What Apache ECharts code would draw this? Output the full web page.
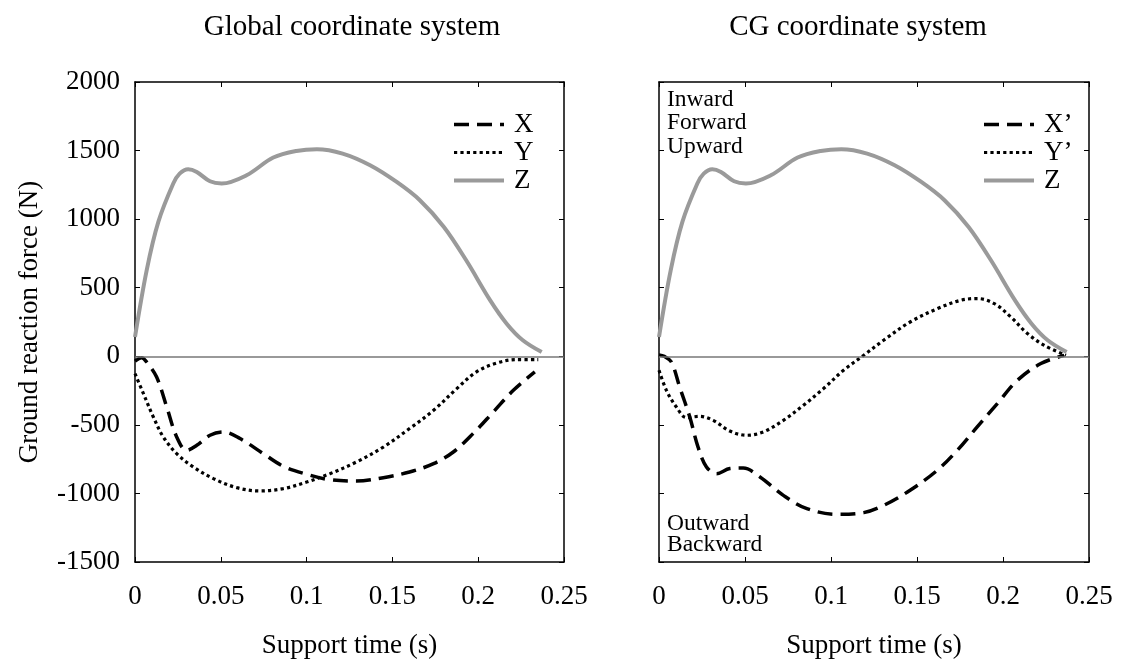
<!DOCTYPE html>
<html>
<head>
<meta charset="utf-8">
<script src="https://cdn.jsdelivr.net/npm/echarts@6/dist/echarts.min.js"></script>
<style>
html,body{margin:0;padding:0;background:#fff;}
#chart{width:1123px;height:664px;}
</style>
</head>
<body>
<div id="chart"></div>
<script>
// ---------- data ----------
const xTicksMin = 0, xTicksMax = 0.25, xTickStep = 0.05;
const yTicksMin = -1500, yTicksMax = 2000, yTickStep = 500;

// Vertical force Z (same in both systems)
const zTime  = [0, 0.0068, 0.0136, 0.0223, 0.026, 0.031, 0.036, 0.0437, 0.0505, 0.065, 0.0806, 0.094, 0.106, 0.121, 0.137, 0.1525, 0.166, 0.18, 0.193, 0.207, 0.2166, 0.226, 0.237];
const zForce = [141, 627, 980, 1260, 1332, 1364, 1344, 1276, 1260, 1320, 1449, 1497, 1510, 1478, 1393, 1271, 1138, 943, 700, 408, 238, 117, 31];

// Global system X
const xgTime  = [0, 0.0039, 0.0068, 0.0126, 0.0185, 0.0243, 0.0301, 0.036, 0.0437, 0.0515, 0.0612, 0.0748, 0.0864, 0.1, 0.1136, 0.129, 0.1447, 0.16, 0.174, 0.1855, 0.197, 0.2088, 0.2205, 0.233];
const xgForce = [-35, -10, -42, -151, -370, -588, -686, -649, -576, -552, -600, -710, -802, -860, -900, -909, -885, -844, -783, -698, -564, -406, -248, -114];

// Global system Y
const ygTime  = [0, 0.0049, 0.0107, 0.0165, 0.0243, 0.034, 0.0457, 0.0593, 0.0728, 0.0864, 0.1, 0.1136, 0.129, 0.1447, 0.16, 0.174, 0.1875, 0.199, 0.2108, 0.2224, 0.235];
const ygForce = [-126, -272, -443, -588, -710, -807, -892, -958, -982, -965, -917, -856, -771, -662, -527, -394, -236, -114, -49, -24, -24];

// CG system X'
const xcTime  = [0, 0.003, 0.0072, 0.012, 0.0179, 0.0227, 0.0276, 0.0335, 0.0412, 0.049, 0.0587, 0.0723, 0.086, 0.1034, 0.119, 0.1306, 0.146, 0.1617, 0.1734, 0.185, 0.1967, 0.2084, 0.222, 0.2356];
const xcForce = [10, 0, -42, -224, -443, -662, -807, -856, -819, -815, -880, -1014, -1111, -1152, -1140, -1087, -977, -832, -686, -515, -345, -175, -53, 7];

// CG system Y'
const ycTime  = [0, 0.0043, 0.0101, 0.016, 0.0237, 0.0315, 0.0412, 0.051, 0.0606, 0.0723, 0.084, 0.0956, 0.1073, 0.119, 0.1306, 0.146, 0.162, 0.1753, 0.185, 0.195, 0.2045, 0.2142, 0.224, 0.2366];
const ycForce = [-102, -248, -370, -447, -438, -467, -545, -576, -552, -467, -357, -236, -102, 7, 117, 250, 348, 408, 421, 384, 287, 166, 80, 7];

const leftTitle = 'Global coordinate system';
const rightTitle = 'CG coordinate system';
const yName = 'Ground reaction force (N)';
const xName = 'Support time (s)';

// ---------- chart ----------
const FONT = '"Liberation Serif","Times New Roman",serif';
const pairs = (t, v) => t.map((x, i) => [x, v[i]]);

function xAxes(grid, showLabel) {
  return [
    {
      gridIndex: grid, type: 'value', position: 'bottom',
      min: xTicksMin, max: xTicksMax, interval: xTickStep,
      axisLine: {show: true, onZero: false, lineStyle: {color: '#000', width: 1.5}},
      axisTick: {show: true, inside: true, length: 5, lineStyle: {color: '#000', width: 1}},
      axisLabel: {show: showLabel, color: '#000', fontFamily: FONT, fontSize: 27, margin: 21,
                  formatter: v => String(+v.toFixed(2))},
      splitLine: {show: false},
      name: xName, nameLocation: 'middle', nameGap: 70,
      nameTextStyle: {color: '#000', fontFamily: FONT, fontSize: 27}
    },
    {
      gridIndex: grid, type: 'value', position: 'top',
      min: xTicksMin, max: xTicksMax, interval: xTickStep,
      axisLine: {show: true, onZero: false, lineStyle: {color: '#000', width: 1.5}},
      axisTick: {show: true, inside: true, length: 5, lineStyle: {color: '#000', width: 1}},
      axisLabel: {show: false}, splitLine: {show: false}
    }
  ];
}
function yAxes(grid, showLabel) {
  const main = {
    gridIndex: grid, type: 'value', position: 'left',
    min: yTicksMin, max: yTicksMax, interval: yTickStep,
    axisLine: {show: true, onZero: false, lineStyle: {color: '#000', width: 1.5}},
    axisTick: {show: true, inside: true, length: 5, lineStyle: {color: '#000', width: 1}},
    axisLabel: {show: showLabel, color: '#000', fontFamily: FONT, fontSize: 27, margin: 15,
                formatter: v => String(v)},
    splitLine: {show: false}
  };
  if (showLabel) {
    main.name = yName; main.nameLocation = 'middle'; main.nameGap = 92; main.nameRotate = 90;
    main.nameTextStyle = {color: '#000', fontFamily: FONT, fontSize: 27};
  }
  return [main, {
    gridIndex: grid, type: 'value', position: 'right',
    min: yTicksMin, max: yTicksMax, interval: yTickStep,
    axisLine: {show: true, onZero: false, lineStyle: {color: '#000', width: 1.5}},
    axisTick: {show: true, inside: true, length: 5, lineStyle: {color: '#000', width: 1}},
    axisLabel: {show: false}, splitLine: {show: false}
  }];
}

const dashStyle = {color: '#000', width: 3.5, type: [15, 8]};
const dotStyle = {color: '#000', width: 3.2, type: [3.2, 3.2]};
const solidStyle = {color: '#9a9a9a', width: 4, type: 'solid'};

function lineSeries(name, xi, yi, data, style, extra) {
  return Object.assign({
    name, type: 'line', xAxisIndex: xi, yAxisIndex: yi, data,
    smooth: 0.35, symbol: 'none', showSymbol: false,
    lineStyle: style, itemStyle: {color: style.color}, animation: false, z: 3
  }, extra || {});
}
const zeroLine = {
  silent: true, symbol: ['none', 'none'], label: {show: false},
  lineStyle: {color: '#777', width: 1.5, type: 'solid'},
  data: [{yAxis: 0}]
};

const legendBase = {
  orient: 'vertical', top: 106, itemWidth: 50, itemHeight: 14, itemGap: 1,
  selectedMode: false,
  itemStyle: {opacity: 0, borderWidth: 0},
  lineStyle: {width: 'inherit'},
  textStyle: {color: '#000', fontFamily: FONT, fontSize: 27, padding: [0, 0, 0, 5]}
};

const chart = echarts.init(document.getElementById('chart'), null, {renderer: 'canvas'});
chart.setOption({
  backgroundColor: '#fff',
  animation: false,
  grid: [
    {left: 135, top: 82, width: 429, height: 480},
    {left: 659, top: 82, width: 430, height: 480}
  ],
  xAxis: [...xAxes(0, true), ...xAxes(1, true)],
  yAxis: [...yAxes(0, true), ...yAxes(1, false)],
  legend: [
    Object.assign({}, legendBase, {left: 447, data: ['X', 'Y', 'Z']}),
    Object.assign({}, legendBase, {left: 977, data: ['X\u2019', 'Y\u2019', 'Z ']})
  ],
  graphic: [
    {type: 'text', x: 352, y: 27, style: {text: leftTitle, font: '29px ' + FONT, fill: '#000', textAlign: 'center', textVerticalAlign: 'middle'}},
    {type: 'text', x: 858, y: 27, style: {text: rightTitle, font: '29px ' + FONT, fill: '#000', textAlign: 'center', textVerticalAlign: 'middle'}},
    {type: 'text', x: 667, y: 88, style: {text: 'Inward\nForward\nUpward', font: '23.5px ' + FONT, lineHeight: 23.5, fill: '#000', textAlign: 'left', textVerticalAlign: 'top'}},
    {type: 'text', x: 667, y: 514, style: {text: 'Outward\nBackward', font: '23.5px ' + FONT, lineHeight: 20.5, fill: '#000', textAlign: 'left', textVerticalAlign: 'top'}}
  ],
  series: [
    lineSeries('X', 0, 0, pairs(xgTime, xgForce), dashStyle, {markLine: zeroLine}),
    lineSeries('Y', 0, 0, pairs(ygTime, ygForce), dotStyle),
    lineSeries('Z', 0, 0, pairs(zTime, zForce), solidStyle),
    lineSeries('X\u2019', 2, 2, pairs(xcTime, xcForce), dashStyle, {markLine: zeroLine}),
    lineSeries('Y\u2019', 2, 2, pairs(ycTime, ycForce), dotStyle),
    lineSeries('Z ', 2, 2, pairs(zTime, zForce), solidStyle)
  ]
});
</script>
</body>
</html>
